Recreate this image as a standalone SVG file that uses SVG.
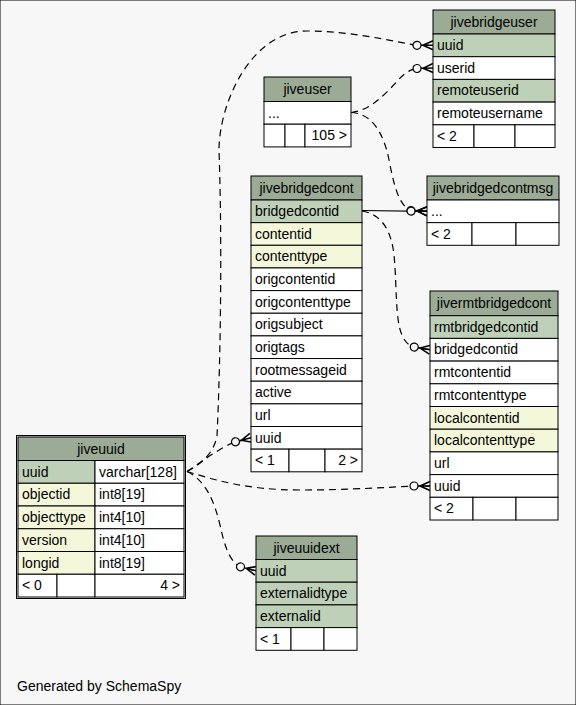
<svg xmlns="http://www.w3.org/2000/svg" width="576" height="705" viewBox="0 0 576 705">
<style>
text{font-family:"Liberation Sans",Arial,Helvetica,sans-serif;font-size:14px;fill:#000}
.c{text-anchor:middle}
.r{text-anchor:end}
rect{stroke:#000;stroke-width:1}
.h{fill:#9bab96}
.pk{fill:#bed1b8}
.ix{fill:#f4f7da}
.w{fill:#fff}
.e{fill:none;stroke:#000;stroke-width:1.2;stroke-dasharray:7,5;marker-end:url(#crow)}
.s{fill:none;stroke:#000;stroke-width:1.2;marker-end:url(#crow)}
</style>
<defs>
<marker id="crow" viewBox="0 -6 21 12" markerWidth="21" markerHeight="12" refX="21" refY="0" markerUnits="userSpaceOnUse" orient="auto" overflow="visible">
<path d="M9,0 L21,0 M11,0 L21,-4.5 M11,0 L21,4.5" stroke="#000" stroke-width="1.5" fill="none"/>
<circle cx="5" cy="0" r="4" fill="#f7f7f7" stroke="#000" stroke-width="1.2"/>
</marker>
</defs>
<rect x="0" y="0" width="576" height="705" fill="#f7f7f7" stroke="none"/>

<g id="connectors">
<path class="e" d="M187,471.5 C203,463 214,452 217,436 C221,350 222,235 219,150 C219,105 250,31 307,31 C352,31 390,41 417,45.3 L433,45.3"/>
<path class="e" d="M351,112.5 C366,111 378,101 390,89 C400,78 406,70 417,68.5 L433,68"/>
<path class="e" d="M351,112.5 C370,113 384,130 390,165 C395,190 400,206 411,210.5 L427,211.3"/>
<path class="s" d="M362,210.5 L427,211.3"/>
<path class="e" d="M362,211 C380,214 391,228 394,255 C397,285 395,320 402,335 C405,342 408,345 414,347 L430,349.7"/>
<path class="e" d="M187,471.5 C198,464 213,453 228,445 C231,443.5 233,442.5 235.5,441.8 L251,437.8"/>
<path class="e" d="M187,471.5 C212,479 245,490 300,490 C350,490 392,487 414,486 L430,486"/>
<path class="e" d="M187,471.5 C205,480 214,500 220,525 C225,548 230,562 241,567 L256,570.8"/>
</g>

<g id="jivebridgeuser">
<rect class="h" x="433" y="10" width="122" height="24"/>
<text class="c" x="494" y="26.5">jivebridgeuser</text>
<rect class="pk" x="433" y="34" width="122" height="22.7"/>
<text x="437" y="50">uuid</text>
<rect class="w" x="433" y="56.7" width="122" height="22.7"/>
<text x="437" y="72.7">userid</text>
<rect class="pk" x="433" y="79.4" width="122" height="22.7"/>
<text x="437" y="95.4">remoteuserid</text>
<rect class="w" x="433" y="102.1" width="122" height="22.7"/>
<text x="437" y="118.1">remoteusername</text>
<rect class="w" x="433" y="124.8" width="41" height="22.7"/>
<rect class="w" x="474" y="124.8" width="41" height="22.7"/>
<rect class="w" x="515" y="124.8" width="40" height="22.7"/>
<text x="437" y="140.8">&lt; 2</text>
</g>

<g id="jiveuser">
<rect class="h" x="264" y="77" width="87" height="24.5"/>
<text class="c" x="307.5" y="93.8">jiveuser</text>
<rect class="w" x="264" y="101.5" width="87" height="22.7"/>
<text x="268" y="117.5">...</text>
<rect class="w" x="264" y="124.2" width="21" height="22.7"/>
<rect class="w" x="285" y="124.2" width="20" height="22.7"/>
<rect class="w" x="305" y="124.2" width="46" height="22.7"/>
<text class="r" x="347" y="140.2">105 &gt;</text>
</g>

<g id="jivebridgedcont">
<rect class="h" x="251" y="176" width="111" height="24"/>
<text class="c" x="306.5" y="192.5">jivebridgedcont</text>
<rect class="pk" x="251" y="200" width="111" height="22.65"/>
<text x="255" y="216">bridgedcontid</text>
<rect class="ix" x="251" y="222.65" width="111" height="22.65"/>
<text x="255" y="238.65">contentid</text>
<rect class="ix" x="251" y="245.3" width="111" height="22.65"/>
<text x="255" y="261.3">contenttype</text>
<rect class="w" x="251" y="267.95" width="111" height="22.65"/>
<text x="255" y="283.95">origcontentid</text>
<rect class="w" x="251" y="290.6" width="111" height="22.65"/>
<text x="255" y="306.6">origcontenttype</text>
<rect class="w" x="251" y="313.25" width="111" height="22.65"/>
<text x="255" y="329.25">origsubject</text>
<rect class="w" x="251" y="335.9" width="111" height="22.65"/>
<text x="255" y="351.9">origtags</text>
<rect class="w" x="251" y="358.55" width="111" height="22.65"/>
<text x="255" y="374.55">rootmessageid</text>
<rect class="w" x="251" y="381.2" width="111" height="22.65"/>
<text x="255" y="397.2">active</text>
<rect class="w" x="251" y="403.85" width="111" height="22.65"/>
<text x="255" y="419.85">url</text>
<rect class="w" x="251" y="426.5" width="111" height="22.65"/>
<text x="255" y="442.5">uuid</text>
<rect class="w" x="251" y="449.15" width="38" height="22.65"/>
<rect class="w" x="289" y="449.15" width="36" height="22.65"/>
<rect class="w" x="325" y="449.15" width="37" height="22.65"/>
<text x="255" y="465.15">&lt; 1</text>
<text class="r" x="358" y="465.15">2 &gt;</text>
</g>

<g id="jivebridgedcontmsg">
<rect class="h" x="427" y="176" width="132" height="24"/>
<text class="c" x="493" y="192.5">jivebridgedcontmsg</text>
<rect class="w" x="427" y="200" width="132" height="22.65"/>
<text x="431" y="216">...</text>
<rect class="w" x="427" y="222.65" width="45" height="22.65"/>
<rect class="w" x="472" y="222.65" width="44" height="22.65"/>
<rect class="w" x="516" y="222.65" width="43" height="22.65"/>
<text x="431" y="238.65">&lt; 2</text>
</g>

<g id="jivermtbridgedcont">
<rect class="h" x="430" y="291" width="128" height="24.7"/>
<text class="c" x="494" y="308">jivermtbridgedcont</text>
<rect class="pk" x="430" y="315.7" width="128" height="22.7"/>
<text x="434" y="331.7">rmtbridgedcontid</text>
<rect class="w" x="430" y="338.4" width="128" height="22.7"/>
<text x="434" y="354.4">bridgedcontid</text>
<rect class="w" x="430" y="361.1" width="128" height="22.7"/>
<text x="434" y="377.1">rmtcontentid</text>
<rect class="w" x="430" y="383.8" width="128" height="22.7"/>
<text x="434" y="399.8">rmtcontenttype</text>
<rect class="ix" x="430" y="406.5" width="128" height="22.7"/>
<text x="434" y="422.5">localcontentid</text>
<rect class="ix" x="430" y="429.2" width="128" height="22.7"/>
<text x="434" y="445.2">localcontenttype</text>
<rect class="w" x="430" y="451.9" width="128" height="22.7"/>
<text x="434" y="467.9">url</text>
<rect class="w" x="430" y="474.6" width="128" height="22.7"/>
<text x="434" y="490.6">uuid</text>
<rect class="w" x="430" y="497.3" width="43" height="22.7"/>
<rect class="w" x="473" y="497.3" width="43" height="22.7"/>
<rect class="w" x="516" y="497.3" width="42" height="22.7"/>
<text x="434" y="513.3">&lt; 2</text>
</g>

<g id="jiveuuid">
<rect class="h" x="18" y="437" width="166" height="23.5"/>
<text class="c" x="101" y="453.8">jiveuuid</text>
<rect class="pk" x="18" y="460.5" width="77" height="22.75"/>
<rect class="w" x="95" y="460.5" width="89" height="22.75"/>
<text x="22" y="476.5">uuid</text>
<text x="99" y="476.5">varchar[128]</text>
<rect class="ix" x="18" y="483.25" width="77" height="22.75"/>
<rect class="w" x="95" y="483.25" width="89" height="22.75"/>
<text x="22" y="499.25">objectid</text>
<text x="99" y="499.25">int8[19]</text>
<rect class="ix" x="18" y="506" width="77" height="22.75"/>
<rect class="w" x="95" y="506" width="89" height="22.75"/>
<text x="22" y="522">objecttype</text>
<text x="99" y="522">int4[10]</text>
<rect class="ix" x="18" y="528.75" width="77" height="22.75"/>
<rect class="w" x="95" y="528.75" width="89" height="22.75"/>
<text x="22" y="544.75">version</text>
<text x="99" y="544.75">int4[10]</text>
<rect class="ix" x="18" y="551.5" width="77" height="22.75"/>
<rect class="w" x="95" y="551.5" width="89" height="22.75"/>
<text x="22" y="567.5">longid</text>
<text x="99" y="567.5">int8[19]</text>
<rect class="w" x="18" y="574.25" width="39" height="22.75"/>
<rect class="w" x="57" y="574.25" width="38" height="22.75"/>
<rect class="w" x="95" y="574.25" width="89" height="22.75"/>
<text x="22" y="590.25">&lt; 0</text>
<text class="r" x="180" y="590.25">4 &gt;</text>
<rect x="16.5" y="435.5" width="169" height="163" fill="none" stroke-width="3"/>
</g>

<g id="jiveuuidext">
<rect class="h" x="256" y="536" width="101" height="23.5"/>
<text class="c" x="306.5" y="552.5">jiveuuidext</text>
<rect class="pk" x="256" y="559.5" width="101" height="22.7"/>
<text x="260" y="575.5">uuid</text>
<rect class="pk" x="256" y="582.2" width="101" height="22.7"/>
<text x="260" y="598.2">externalidtype</text>
<rect class="pk" x="256" y="604.9" width="101" height="22.7"/>
<text x="260" y="620.9">externalid</text>
<rect class="w" x="256" y="627.6" width="35" height="22.7"/>
<rect class="w" x="291" y="627.6" width="33" height="22.7"/>
<rect class="w" x="324" y="627.6" width="33" height="22.7"/>
<text x="260" y="643.6">&lt; 1</text>
</g>

<text x="17" y="691">Generated by SchemaSpy</text>
</svg>
